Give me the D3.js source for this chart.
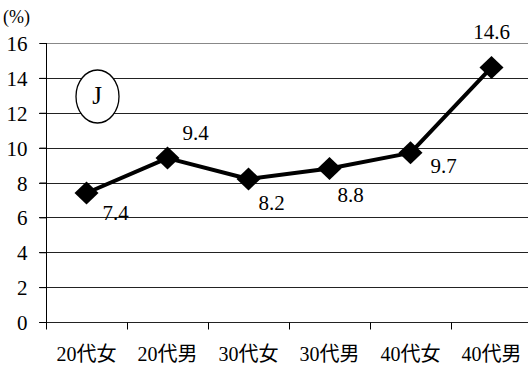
<!DOCTYPE html>
<html>
<head>
<meta charset="utf-8">
<script src="https://cdn.jsdelivr.net/npm/d3@7"></script>
</head>
<body style="margin:0;background:#fff">
<svg id="chart" width="528" height="367" style="display:block"></svg>
<script>
// Rate by age group and sex (%)
const categories = ["20代女", "20代男", "30代女", "30代男", "40代女", "40代男"];
const rates = [7.4, 9.4, 8.2, 8.8, 9.7, 14.6];
const yTicks = [0, 2, 4, 6, 8, 10, 12, 14, 16];
const unitLabel = "(%)";
const panelMark = "J";

// Value label placement relative to each marker [dx, dy]
const labelOffsets = [[29, 27], [28, -18], [23, 31], [21, 33], [33, 20], [0, -28]];

const font = size => `font-family:'Liberation Serif','Noto Sans CJK JP',serif !important;font-size:${size}px !important`;

const svg = d3.select("#chart");
const x0 = 46, x1 = 532, yTop = 43, yBottom = 322;

const x = d3.scaleBand().domain(categories).range([x0, x1]).padding(0);
const y = d3.scaleLinear().domain([0, 16]).range([yBottom, yTop]);

// horizontal gridlines
svg.append("g")
  .selectAll("line")
  .data(yTicks)
  .join("line")
  .attr("x1", x0 - 7)
  .attr("x2", 528)
  .attr("y1", d => Math.round(y(d)) + 0.5)
  .attr("y2", d => Math.round(y(d)) + 0.5)
  .attr("stroke", d => d === 16 ? "#888" : "#222")
  .attr("stroke-width", 1);

// y axis
const yAxis = svg.append("g")
  .attr("transform", `translate(${x0 + 0.5},0)`)
  .call(d3.axisLeft(y).tickValues(yTicks).tickSize(7).tickPadding(12).tickFormat(d3.format("d")));
yAxis.select(".domain").attr("d", `M0,${yTop}V${yBottom + 7}`).attr("stroke", "#000");
yAxis.selectAll(".tick line").attr("stroke", "#000");
yAxis.selectAll(".tick text").attr("dy", "0.36em").attr("fill", "#000").attr("style", font(21));

// x axis: ticks at category boundaries
const xAxis = svg.append("g")
  .attr("transform", `translate(0,${Math.round(yBottom) + 0.5})`);
xAxis.selectAll("line")
  .data(categories)
  .join("line")
  .attr("x1", d => Math.round(x(d)) + 0.5)
  .attr("x2", d => Math.round(x(d)) + 0.5)
  .attr("y1", 0)
  .attr("y2", 7)
  .attr("stroke", "#000");
xAxis.selectAll("text")
  .data(categories)
  .join("text")
  .attr("x", d => x(d) + x.bandwidth() / 2)
  .attr("y", 38)
  .attr("text-anchor", "middle")
  .attr("style", font(20))
  .text(d => d);

// unit label
svg.append("text")
  .attr("x", 3).attr("y", 23)
  .attr("style", font(18))
  .text(unitLabel);

// panel mark in an ellipse
svg.append("ellipse")
  .attr("cx", 97.5).attr("cy", 96.5).attr("rx", 21.5).attr("ry", 26.5)
  .attr("fill", "#fff").attr("stroke", "#000").attr("stroke-width", 1.3);
svg.append("text")
  .attr("x", 97).attr("y", 104)
  .attr("text-anchor", "middle")
  .attr("style", font(25))
  .text(panelMark);

// series line
const cx = (d, i) => x(categories[i]) + x.bandwidth() / 2;
const line = d3.line().x(cx).y(d => y(d));
svg.append("path")
  .datum(rates)
  .attr("d", line)
  .attr("fill", "none")
  .attr("stroke", "#000")
  .attr("stroke-width", 4)
  .attr("stroke-linejoin", "round");

// diamond markers
svg.append("g")
  .selectAll("path")
  .data(rates)
  .join("path")
  .attr("transform", (d, i) => `translate(${cx(d, i)},${y(d)})`)
  .attr("d", "M0,-11.5L12,0L0,11.5L-12,0Z")
  .attr("fill", "#000");

// value labels
svg.append("g")
  .selectAll("text")
  .data(rates)
  .join("text")
  .attr("x", (d, i) => cx(d, i) + labelOffsets[i][0])
  .attr("y", (d, i) => y(d) + labelOffsets[i][1])
  .attr("text-anchor", "middle")
  .attr("style", font(21))
  .text(d => d.toFixed(1));
</script>
</body>
</html>
